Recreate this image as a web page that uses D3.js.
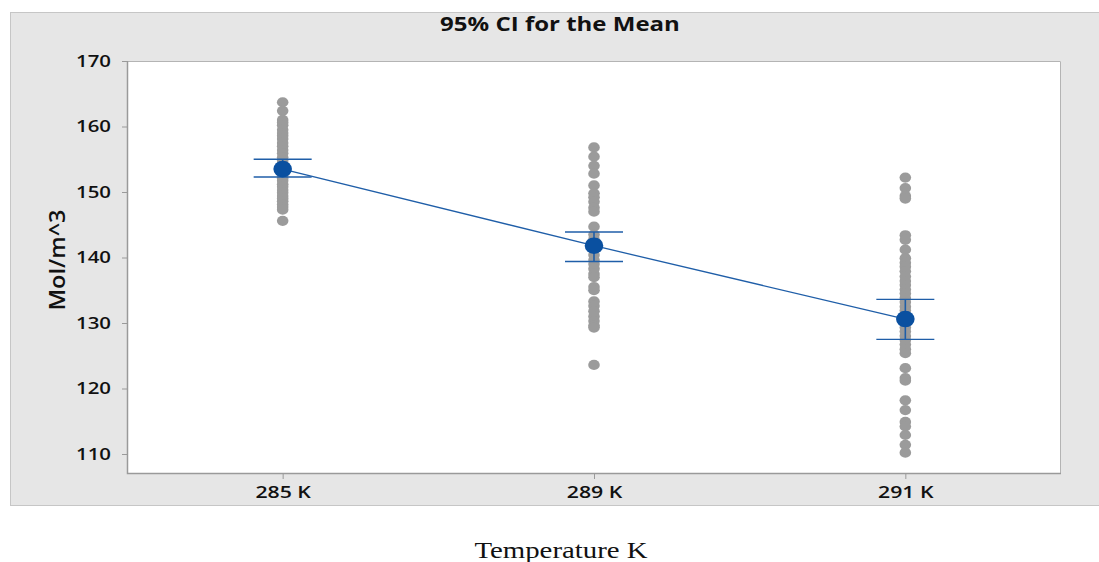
<!DOCTYPE html>
<html>
<head>
<meta charset="utf-8">
<script src="https://cdn.jsdelivr.net/npm/d3@7/dist/d3.min.js"></script>
<style>
  html, body { margin: 0; padding: 0; background: #ffffff; }
  svg { display: block; }
</style>
</head>
<body>
<svg id="chart" width="1099" height="562"></svg>
<script>
// Temperature groups
const categories = ["285 K", "289 K", "291 K"];

// Individual observations (Mol/m^3) per group
const obs285 = [163.7, 162.4, 161.0, 160.6, 160.2, 159.5, 159.0, 158.6, 158.1, 157.5, 157.0,
  156.4, 155.9, 155.3, 154.8, 154.4, 153.9, 153.4, 153.0, 152.6, 152.1, 151.7, 151.2, 150.8,
  150.3, 149.9, 149.4, 149.0, 148.6, 148.1, 147.7, 147.3, 145.6];
const obs289 = [156.8, 155.4, 154.0, 152.8, 151.0, 149.8, 149.2, 148.5, 147.6, 147.0, 144.7,
  143.5, 142.8, 142.0, 141.2, 140.4, 139.6, 139.0, 138.3, 137.5, 137.0, 135.5, 135.0, 133.3,
  132.6, 131.8, 131.0, 130.3, 129.6, 129.3, 123.6];
const obs291 = [152.2, 150.6, 149.4, 149.0, 143.4, 142.7, 141.2, 139.9, 139.2, 138.6, 137.9,
  137.1, 136.4, 135.8, 135.1, 134.5, 133.8, 133.2, 132.5, 131.9, 131.2, 130.6, 130.0, 129.3,
  128.7, 128.0, 127.4, 126.7, 126.0, 125.4, 123.1, 121.6, 121.2, 118.2, 116.7, 114.9, 114.2,
  112.9, 111.4, 110.2];
const observations = [obs285, obs289, obs291];

// Group means and 95% confidence limits
const means = [153.5, 141.8, 130.6];
const ciLower = [152.3, 139.4, 127.5];
const ciUpper = [155.0, 143.9, 133.6];

// Axis ticks
const yTicks = [110, 120, 130, 140, 150, 160, 170];

const svg = d3.select("#chart");
const sans = "'Open Sans', 'Noto Sans', sans-serif";

// Widen a text element horizontally by a given factor
function widen(sel, factor) {
  sel.each(function () {
    const w = this.getComputedTextLength();
    d3.select(this).attr("textLength", w * factor).attr("lengthAdjust", "spacingAndGlyphs");
  });
}

// Outer panel
svg.append("rect")
  .attr("x", 10.5).attr("y", 12.5)
  .attr("width", 1095).attr("height", 493)
  .attr("fill", "#e6e6e6")
  .attr("stroke", "#c6c6c6").attr("stroke-width", 1);

const plot = { left: 127, right: 1061, top: 61, bottom: 474 };

const x = d3.scaleLinear().domain([0.5, categories.length + 0.5]).range([plot.left, plot.right]);
const y = d3.scaleLinear().domain([170, 110]).range([61, 454]);

// Plot area
svg.append("rect")
  .attr("x", plot.left).attr("y", plot.top)
  .attr("width", plot.right - plot.left).attr("height", plot.bottom - plot.top)
  .attr("fill", "#ffffff");
svg.append("path")
  .attr("d", `M${plot.left + 0.5},${plot.top + 0.5}H${plot.right - 0.5}V${plot.bottom - 0.5}`)
  .attr("fill", "none").attr("stroke", "#b4b4b4").attr("stroke-width", 1);
svg.append("path")
  .attr("d", `M${plot.left + 0.5},${plot.top}V${plot.bottom - 0.5}H${plot.right}`)
  .attr("fill", "none").attr("stroke", "#9a9a9a").attr("stroke-width", 1.5);

// Y axis
const yAxis = svg.append("g")
  .attr("transform", `translate(${plot.left},0)`)
  .call(d3.axisLeft(y).tickValues(yTicks).tickSize(5).tickPadding(11));
yAxis.select(".domain").remove();
yAxis.selectAll(".tick line").attr("stroke", "#9a9a9a");
yAxis.selectAll(".tick text")
  .attr("fill", "#111").style("font-family", sans)
  .style("font-size", "17px").style("font-weight", "600")
  .call(widen, 1.2);

// X axis
const xAxis = svg.append("g")
  .attr("transform", `translate(0,${plot.bottom})`)
  .call(d3.axisBottom(x).tickValues(d3.range(1, categories.length + 1))
    .tickFormat(d => categories[d - 1]).tickSize(5).tickPadding(7));
xAxis.select(".domain").remove();
xAxis.selectAll(".tick line").attr("stroke", "#9a9a9a");
xAxis.selectAll(".tick text")
  .attr("fill", "#111").style("font-family", sans)
  .style("font-size", "17px").style("font-weight", "600")
  .call(widen, 1.25);

// Individual observations
const pts = [];
observations.forEach((arr, i) => arr.forEach(v => pts.push({ g: i + 1, v })));
svg.append("g").selectAll("ellipse")
  .data(pts).join("ellipse")
  .attr("cx", d => x(d.g)).attr("cy", d => y(d.v))
  .attr("rx", 5.8).attr("ry", 5.1).attr("fill", "#9b9b9b");

const blue = "#1f5ea8";

// Confidence intervals
const ci = svg.append("g").attr("stroke", blue).attr("fill", "none");
categories.forEach((c, i) => {
  const cx = x(i + 1);
  ci.append("line").attr("x1", cx).attr("x2", cx)
    .attr("y1", y(ciUpper[i])).attr("y2", y(ciLower[i])).attr("stroke-width", 1.6);
  [ciUpper[i], ciLower[i]].forEach(v => {
    ci.append("line").attr("x1", cx - 29).attr("x2", cx + 29)
      .attr("y1", y(v)).attr("y2", y(v)).attr("stroke-width", 1.4);
  });
});

// Line connecting the means
svg.append("path")
  .datum(means)
  .attr("d", d3.line().x((d, i) => x(i + 1)).y(d => y(d)))
  .attr("fill", "none").attr("stroke", blue).attr("stroke-width", 1.3);

// Mean symbols
svg.append("g").selectAll("ellipse")
  .data(means).join("ellipse")
  .attr("cx", (d, i) => x(i + 1)).attr("cy", d => y(d))
  .attr("rx", 9.3).attr("ry", 8.3).attr("fill", "#0a50a0");

// Titles
svg.append("text")
  .attr("x", 560).attr("y", 31)
  .attr("text-anchor", "middle")
  .style("font-family", sans).style("font-size", "20px").style("font-weight", "700")
  .attr("fill", "#111")
  .text("95% CI for the Mean")
  .call(widen, 1.2);

svg.append("text")
  .attr("transform", "translate(65,260) rotate(-90)")
  .attr("text-anchor", "middle")
  .style("font-family", sans).style("font-size", "21px").style("font-weight", "600")
  .attr("fill", "#111")
  .text("Mol/m^3")
  .call(widen, 1.12);

svg.append("text")
  .attr("x", 561).attr("y", 558)
  .attr("text-anchor", "middle")
  .style("font-family", "'Liberation Serif', 'DejaVu Serif', serif").style("font-size", "24px")
  .attr("fill", "#111")
  .text("Temperature K")
  .call(widen, 1.2);
</script>
</body>
</html>
